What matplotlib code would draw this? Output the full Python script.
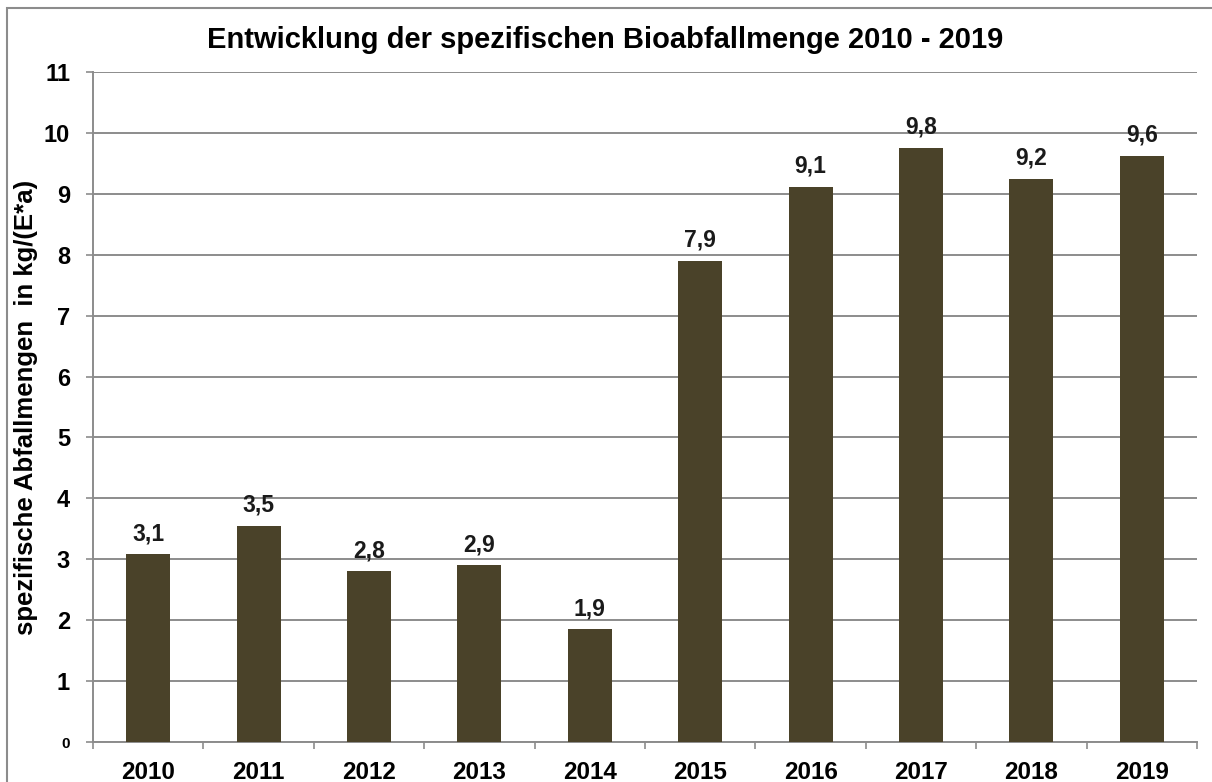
import matplotlib.pyplot as plt
from matplotlib.patches import Rectangle

years = ["2010", "2011", "2012", "2013", "2014", "2015", "2016", "2017", "2018", "2019"]
values = [3.08, 3.55, 2.8, 2.9, 1.85, 7.9, 9.12, 9.75, 9.25, 9.62]
labels = ["3,1", "3,5", "2,8", "2,9", "1,9", "7,9", "9,1", "9,8", "9,2", "9,6"]

plt.rcParams['font.family'] = ['Liberation Sans', 'DejaVu Sans']
plt.rcParams['font.weight'] = 'bold'

fig = plt.figure(figsize=(12.12, 7.82), dpi=100)
ax = fig.add_axes([93 / 1212, 1 - 742 / 782, (1197 - 93) / 1212, (742 - 72) / 782])

x = range(len(years))
ax.bar(x, values, width=0.4, color="#4a4229", zorder=3)
for i, (v, lab) in enumerate(zip(values, labels)):
    ax.text(i, v + 0.15, lab, ha="center", va="bottom", fontsize=16.5, fontweight="bold", color="#1a1a1a")

ax.set_xlim(-0.5, len(years) - 0.5)
ax.set_ylim(0, 11)
ax.set_yticks(range(0, 12))
ax.set_yticklabels([str(t) for t in range(0, 12)], fontsize=17, fontweight="bold")
ax.yaxis.grid(True, color="#8c8c8c", linewidth=1.4, zorder=0)
ax.tick_params(axis="y", length=5, color="#8c8c8c", width=1.2, pad=11.5)
ax.get_yticklabels()[0].set_fontsize(11)

ax.set_xticks(list(x))
ax.set_xticklabels(years, fontsize=17.5, fontweight="bold")
ax.set_xticks([i + 0.5 for i in range(-1, len(years))], minor=True)
ax.tick_params(axis="x", which="major", length=0, pad=14)
ax.tick_params(axis="x", which="minor", length=5, color="#8c8c8c", width=1.2)

for s in ["top", "right"]:
    ax.spines[s].set_visible(False)
for s in ["left", "bottom"]:
    ax.spines[s].set_color("#8c8c8c")
    ax.spines[s].set_linewidth(1.4)

ax.set_ylabel("spezifische Abfallmengen  in kg/(E*a)", fontsize=18.5, fontweight="bold")
ax.yaxis.set_label_coords((38 - 93) / 1104, 0.5)
fig.text(605 / 1212, 1 - 40 / 782, "Entwicklung der spezifischen Bioabfallmenge 2010 - 2019",
         ha="center", va="center", fontsize=21, fontweight="bold")

fig.patches.append(Rectangle((7 / 1212, -0.01), 1.2, 1 - 8 / 782 + 0.01, transform=fig.transFigure,
                             fill=False, edgecolor="#8c8c8c", linewidth=1.5))

fig.savefig("out.png", dpi=100)
